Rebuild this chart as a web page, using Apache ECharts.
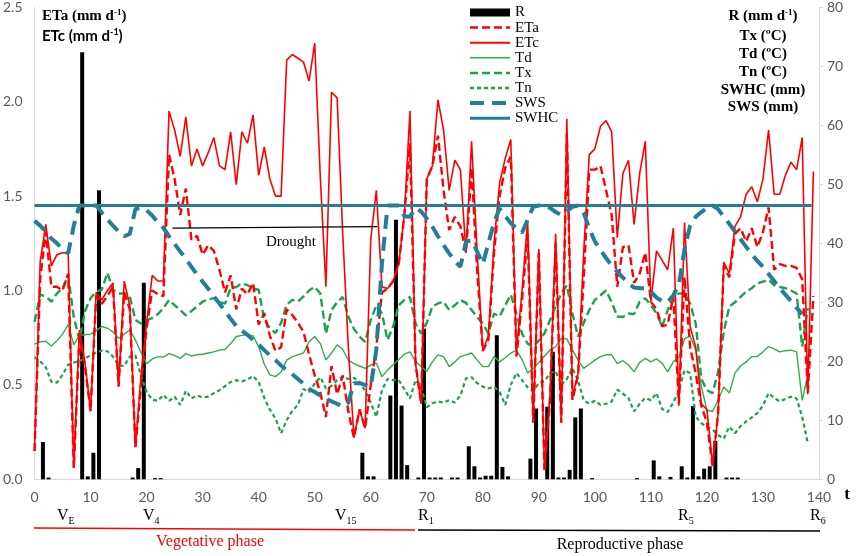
<!DOCTYPE html>
<html>
<head>
<meta charset="utf-8">
<script src="https://cdn.jsdelivr.net/npm/echarts@6/dist/echarts.min.js"></script>
<style>
html,body{margin:0;padding:0;background:#fff}
#chart{width:856px;height:556px}
</style>
</head>
<body>
<div id="chart"></div>
<script>
// daily series, index = day after sowing
var etc = [0.15,1.15,1.35,1.13,1.19,1.2,1.2,0.06,0.79,0.62,
  0.36,0.99,0.95,1.0,1.04,0.5,1.05,0.92,0.17,0.55,
  0.83,1.08,1.05,1.05,1.95,1.85,1.71,1.92,1.66,1.75,
  1.66,1.73,1.81,1.66,1.64,1.84,1.56,1.84,1.78,1.93,
  1.61,1.76,1.59,1.5,1.5,2.22,2.25,2.23,2.21,2.11,
  2.31,1.6,1.02,2.05,2.02,1.3,0.7,0.22,0.37,0.27,
  1.27,1.53,1.02,1.01,1.05,1.14,1.4,1.95,0.61,0.4,
  1.59,1.66,2.01,1.85,1.53,1.69,1.64,1.2,1.79,1.2,
  0.68,0.76,1.25,1.57,1.7,1.8,0.67,1.0,1.37,0.31,
  1.22,0.05,0.45,1.3,0.3,1.91,0.44,0.56,1.2,1.72,
  1.75,1.87,1.9,1.84,1.28,1.62,1.69,1.35,1.62,1.79,
  0.94,1.21,1.16,1.11,1.33,0.39,1.36,0.81,0.7,0.4,
  0.37,0.08,0.35,1.15,1.09,1.34,1.39,1.51,1.55,1.47,
  1.59,1.85,1.51,1.51,1.61,1.68,1.64,1.81,0.45,1.63];

var eta = [0.15,1.06,1.31,1.02,1.02,1.0,1.09,0.06,0.75,0.6,
  0.36,0.97,0.93,0.97,1.02,0.49,0.99,0.9,0.17,0.5,
  0.8,1.0,0.98,0.97,1.72,1.59,1.4,1.54,1.27,1.29,
  1.19,1.24,1.21,1.11,0.99,1.08,0.9,1.01,0.98,1.04,
  0.82,0.88,0.76,0.68,0.7,0.9,0.87,0.83,0.78,0.66,
  0.55,0.46,0.33,0.6,0.45,0.55,0.36,0.22,0.37,0.27,
  0.5,0.7,0.99,1.01,1.05,1.14,1.4,1.78,0.61,0.4,
  1.59,1.66,1.82,1.53,1.32,1.39,1.34,1.2,1.65,1.1,
  0.68,0.74,1.2,1.5,1.65,1.71,0.65,0.95,1.3,0.3,
  1.2,0.05,0.42,1.25,0.3,1.83,0.42,0.55,1.06,1.64,
  1.64,1.66,1.53,1.4,1.02,1.23,1.24,1.04,1.09,1.2,
  0.94,0.9,0.81,0.82,0.97,0.4,1.07,0.7,0.56,0.39,
  0.3,0.07,0.35,1.13,1.07,1.3,1.33,1.26,1.33,1.23,
  1.31,1.44,1.11,1.14,1.13,1.13,1.12,1.06,0.46,0.97];

var td = [22.9,23.3,23.4,22.6,23.5,24.6,26.2,22.8,24.4,24.5,
  24.6,25.2,25.9,25.6,25,23.9,24.6,25.3,23.6,21.5,
  19.6,20.4,20.8,20.7,21.3,21,20.5,21.3,20.9,21.1,
  21.2,21.4,21.6,21.9,22,23,24.2,24.4,24.5,24.3,
  22.5,19.5,17.7,17.4,18.2,20.2,20.8,21.1,21.4,23.3,
  24.2,23,20.2,21.4,22.8,22,20.2,19.6,19.2,18.8,
  19.4,19.7,17.4,18.5,19.4,20.3,21.2,21.6,20,19.1,
  18.3,19.9,21.1,20.8,19.1,19.9,20.8,21.1,21.4,20.2,
  19.1,19.1,20.8,19.9,20.6,21.4,21.9,20.3,18,18.8,
  19.8,20.9,21.9,22.5,23.9,23.8,21.9,20.2,18.8,19.5,
  20.2,20.8,21.1,21.1,19.6,20.1,19.4,18.2,19.8,20.5,
  19.9,20.4,19.7,18.2,19.9,20.7,23.8,24.3,21.9,15.7,
  11.7,11.5,13.4,15.7,14.6,18,19.2,19.9,20.8,20.8,
  21.6,22.5,22.1,21.6,21.8,21.9,21.6,13.4,17.7];

var tx = [26.7,31.3,31,30.1,31.5,32.4,34.6,27.5,23.6,28.5,
  30.7,31.8,32.1,35,32.1,31.5,31.5,31,27,26.4,
  27,27.3,28,29,30.4,29.5,28.7,27.8,28.5,29.3,
  30.1,30.5,30.7,30,29.8,32.4,32.6,33.2,32.9,32.4,
  32.1,27,25.6,24.8,26.5,29.6,30.4,30.1,31,32,
  32.6,31.5,24.7,28.7,30,30.9,27.6,25.5,24.2,23.3,
  27,29.5,28.1,23.6,25.9,29.5,30.4,30.9,26.4,24.7,
  26.5,29.3,29.8,30.1,28.7,29.5,30.4,29.9,28.7,27.5,
  26.4,24.7,28.1,27.6,29.5,31.3,28.1,24.7,23,22.5,
  23.5,24.7,27,29.3,31.5,32.9,28.1,24.2,26.5,28.7,
  30.4,31.2,32,30,27.6,27.5,28.1,28,30.1,30.7,
  29.5,28.1,25.9,28.7,31,31.5,31.5,29.8,26.4,17,
  15.1,14.6,18.2,25,29.3,30,30.9,31.8,32.4,33.2,
  33.5,33.8,32.9,32.6,32.4,32,31.5,22.5,29];

var tn = [20.7,20,19,16.5,16.4,17.7,19.4,19.8,20,20.5,
  21,21.5,21.8,21.7,20.8,19.3,19.2,20.8,21,17.5,
  14.8,13.5,13.3,14.3,13.3,14,12.6,15,13.7,14.2,
  13.9,14,14.6,15.1,15.8,16.5,16.8,16.6,16.9,17.5,
  16.5,13.8,11.8,10.3,7.8,10,11.6,12.6,15.3,14.8,
  16.2,17.3,15.4,15.8,16.8,17.4,17,17.2,16.5,15,
  13,10.6,15.1,17,16.8,16.8,15.3,13.7,16.8,15.7,
  12.2,12.9,13.2,13,13.4,13,14.2,17.1,17.3,16.3,
  15.7,15.4,15.7,14.8,12.6,16,18,16.8,15.6,15,
  16.3,16.6,18,18.3,16,17,18.8,16.8,13.4,12.8,
  13.3,12.6,12.8,13.2,15.2,14.5,13.8,11.5,12.8,13.8,
  13.4,14.6,11.9,11.4,13,15,18.5,18,10.6,9.5,
  8.9,8.4,7.5,6.9,8.9,7.8,9,9.8,10.5,11.2,
  12.5,14.6,13.8,13.2,13.6,14,13.7,10.6,6.1];

var sws = [43.8,43,42,40.8,40,39,38.3,43,46.4,46.4,
  46.4,46.4,45.2,44,43,42,41.2,41.6,45.8,46,
  45.6,44.7,43.6,42.6,41.2,39.9,38.6,37.4,36,34.7,
  33.5,32.3,31,29.8,28.5,27.2,26,25.2,24.5,23.6,
  22.8,21.9,21,20.2,19.3,18.5,17.8,17,16.2,15.3,
  14.8,14.2,13.6,13.2,12.8,12.3,13,16.3,16.3,16,
  15.7,22,36.6,46.4,46.4,46.4,44.6,44.5,46,45.4,
  44.2,42.8,41.2,39.7,38.3,37,36,40.3,40.5,38.6,
  36.5,40,43.5,45.9,44.6,43.4,42.6,41.8,44,46.2,
  46.4,46.4,46,45.3,44.8,45.4,46.2,46.4,45.2,42.5,
  40.3,38.9,37.5,36.2,35.2,34.2,33.2,32.5,32.4,32.4,
  31.8,30.8,30.2,30,31.2,33,39,43,44.5,45.3,
  46,46.4,45.8,44.5,43.3,42,40.7,39.4,38.2,37,
  36,34.8,33.6,32.4,31.3,30.2,29.1,28];

var swhcDays = [0, 138.7];
var swhcVals = [46.4, 46.4];

// rain events
var rDays = [1,2,8,9,10,11,17,18,19,21,22,
  58,59,60,63,64,65,66,68,69,70,71,72,74,75,
  77,78,79,80,81,82,83,84,
  88,89,91,92,93,94,95,96,97,99,
  107,110,111,113,115,116,117,118,119,120,121,123,124,125];
var rVals = [6.3,0.3,72.4,0.5,4.5,49,0.3,1.9,33.3,0.2,0.2,
  4.5,0.5,0.5,14.2,44,12.5,2.4,0.3,25.5,0.3,0.3,0.3,0.3,0.3,
  5.6,2.2,0.3,0.6,0.6,24.4,2.1,0.5,
  3.5,12,12.3,21.6,0.3,0.3,1.6,10.5,12,0.2,
  0.2,3.2,0.5,0.4,2.2,0.3,12.4,0.5,1.8,2.2,6.5,0.3,0.3,0.3];

var droughtStart = [24.6, 1.33];
var droughtEnd = [61.2, 1.338];

var RED = '#ff0000', GREEN = '#1aa34a', GREEN_L = '#2eb04b', TEAL = '#237f99';
var SERIF = 'Liberation Serif';

function pairs(arr) {
	return arr.map(function(v, i) { return [i, v]; });
}

// legend entry for a line series: line only, no marker
function lineItem(name, w) {
	return { name: name, itemStyle: { opacity: 0 }, lineStyle: { width: w } };
}

var chart = echarts.init(document.getElementById('chart'));

var serifB = { fontFamily: SERIF, fontWeight: 'bold', fontSize: 15, lineHeight: 17, color: '#000' };
var supB = { fontFamily: SERIF, fontWeight: 'bold', fontSize: 9, lineHeight: 17, verticalAlign: 'top', color: '#000' };

function rightTitle(txt, y) {
	return {
		type: 'text', x: 763, y: y, silent: true,
		style: { text: txt, align: 'center', verticalAlign: 'middle', textAlign: 'center', textVerticalAlign: 'middle',
			font: 'bold 15px "Liberation Serif"', fill: '#000' }
	};
}

function stage(main, sub, x) {
	return {
		type: 'text', x: x, y: 506, silent: true,
		style: {
			text: '{m|' + main + '}{s|' + sub + '}',
			rich: {
				m: { fontFamily: SERIF, fontSize: 16, lineHeight: 20, color: '#000' },
				s: { fontFamily: SERIF, fontSize: 10, lineHeight: 20, verticalAlign: 'bottom', color: '#000' }
			}
		}
	};
}

var option = {
	animation: false,
	backgroundColor: '#fff',
	grid: { left: 34, right: 37, top: 7.3, bottom: 76.7 },
	legend: {
		orient: 'vertical', left: 463, top: 0,
		itemWidth: 40, itemHeight: 8, itemGap: 0.1, itemTextGap: 5,
		textStyle: { fontFamily: SERIF, fontSize: 15, color: '#000' },
		data: [
			{ name: 'R', icon: 'rect' },
			lineItem('ETa', 2.5),
			lineItem('ETc', 2),
			lineItem('Td', 1.6),
			lineItem('Tx', 2.5),
			lineItem('Tn', 2.5),
			lineItem('SWS', 4),
			lineItem('SWHC', 3)
		]
	},
	xAxis: {
		type: 'value', min: 0, max: 140, interval: 10,
		axisLine: { show: true, lineStyle: { color: '#d9d9d9' } },
		axisTick: { show: false },
		splitLine: { show: false },
		axisLabel: { color: '#595959', fontFamily: 'Lato', fontSize: 14, margin: 11 }
	},
	yAxis: [{
		type: 'value', min: 0, max: 2.5, interval: 0.5,
		axisLine: { show: true, lineStyle: { color: '#d9d9d9' } },
		axisTick: { show: false },
		splitLine: { show: false },
		axisLabel: { color: '#595959', fontFamily: 'Lato', fontSize: 14, margin: 12,
			formatter: function(v) { return v.toFixed(1); } }
	}, {
		type: 'value', min: 0, max: 80, interval: 10, position: 'right',
		axisLine: { show: true, lineStyle: { color: '#d9d9d9' } },
		axisTick: { show: true, length: 4, lineStyle: { color: '#d9d9d9' } },
		splitLine: { show: false },
		axisLabel: { color: '#595959', fontFamily: 'Lato', fontSize: 14, margin: 8 }
	}],
	series: [{
		name: 'R', type: 'bar', yAxisIndex: 1, barWidth: 4,
		itemStyle: { color: '#000' },
		data: rDays.map(function(d, i) { return [d + 0.5, rVals[i]]; })
	}, {
		name: 'Tn', type: 'line', yAxisIndex: 1, symbol: 'none',
		lineStyle: { color: GREEN, width: 2.2, type: [4, 3] }, itemStyle: { color: GREEN },
		data: pairs(tn)
	}, {
		name: 'Tx', type: 'line', yAxisIndex: 1, symbol: 'none',
		lineStyle: { color: GREEN, width: 2.4, type: [8, 4] }, itemStyle: { color: GREEN },
		data: pairs(tx)
	}, {
		name: 'Td', type: 'line', yAxisIndex: 1, symbol: 'none',
		lineStyle: { color: GREEN_L, width: 1.4 }, itemStyle: { color: GREEN_L },
		data: pairs(td)
	}, {
		name: 'ETa', type: 'line', yAxisIndex: 0, symbol: 'none',
		lineStyle: { color: RED, width: 2.4, type: [8, 4] }, itemStyle: { color: RED },
		data: pairs(eta),
		markLine: {
			silent: true, symbol: ['none', 'none'], label: { show: false },
			lineStyle: { color: '#000', width: 1.3, type: 'solid' },
			data: [[{ coord: droughtStart }, { coord: droughtEnd }]]
		}
	}, {
		name: 'ETc', type: 'line', yAxisIndex: 0, symbol: 'none',
		lineStyle: { color: RED, width: 1.6 }, itemStyle: { color: RED },
		data: pairs(etc)
	}, {
		name: 'SWS', type: 'line', yAxisIndex: 1, symbol: 'none',
		lineStyle: { color: TEAL, width: 4, type: [14, 8] }, itemStyle: { color: TEAL },
		data: pairs(sws)
	}, {
		name: 'SWHC', type: 'line', yAxisIndex: 1, symbol: 'none',
		lineStyle: { color: TEAL, width: 3 }, itemStyle: { color: TEAL },
		data: swhcDays.map(function(d, i) { return [d, swhcVals[i]]; })
	}],
	graphic: [
		{ type: 'text', x: 42, y: 8, silent: true,
			style: { text: '{b|ETa (mm d}{s|-1}{b|)}',
				rich: { b: serifB, s: supB } } },
		{ type: 'text', x: 42, y: 28, silent: true,
			style: { text: '{b|ETc (mm d}{s|-1}{b|)}',
				rich: { b: { fontFamily: 'Lato', fontWeight: 'bold', fontSize: 15, lineHeight: 17, color: '#000' },
					s: { fontFamily: 'Lato', fontWeight: 'bold', fontSize: 9, lineHeight: 17, verticalAlign: 'top', color: '#000' } } } },
		{ type: 'text', x: 763, y: 8, silent: true,
			style: { text: '{b|R (mm d}{s|-1}{b|)}', align: 'center', textAlign: 'center',
				rich: { b: serifB, s: supB } } },
		rightTitle('Tx (ºC)', 36.5),
		rightTitle('Td (ºC)', 54.5),
		rightTitle('Tn (ºC)', 72),
		rightTitle('SWHC (mm)', 90),
		rightTitle('SWS (mm)', 107.5),
		{ type: 'text', x: 847, y: 495, silent: true,
			style: { text: 't', align: 'center', verticalAlign: 'middle', textAlign: 'center', textVerticalAlign: 'middle',
				font: 'bold 17px "Liberation Serif"', fill: '#000' } },
		{ type: 'text', x: 291, y: 242, silent: true,
			style: { text: 'Drought', align: 'center', verticalAlign: 'middle', textAlign: 'center', textVerticalAlign: 'middle',
				font: '15px "Liberation Serif"', fill: '#000' } },
		stage('V', 'E', 57),
		stage('V', '4', 143),
		stage('V', '15', 335),
		stage('R', '1', 418),
		stage('R', '5', 678),
		stage('R', '6', 810),
		{ type: 'line', silent: true, shape: { x1: 34, y1: 528, x2: 415, y2: 530 },
			style: { stroke: RED, lineWidth: 1.5 } },
		{ type: 'line', silent: true, shape: { x1: 418, y1: 530, x2: 820, y2: 531 },
			style: { stroke: '#000', lineWidth: 1.5 } },
		{ type: 'text', x: 210, y: 542, silent: true,
			style: { text: 'Vegetative phase', align: 'center', verticalAlign: 'middle', textAlign: 'center', textVerticalAlign: 'middle',
				font: '16px "Liberation Serif"', fill: RED } },
		{ type: 'text', x: 620, y: 545, silent: true,
			style: { text: 'Reproductive phase', align: 'center', verticalAlign: 'middle', textAlign: 'center', textVerticalAlign: 'middle',
				font: '16px "Liberation Serif"', fill: '#000' } }
	]
};

chart.setOption(option);
</script>
</body>
</html>
